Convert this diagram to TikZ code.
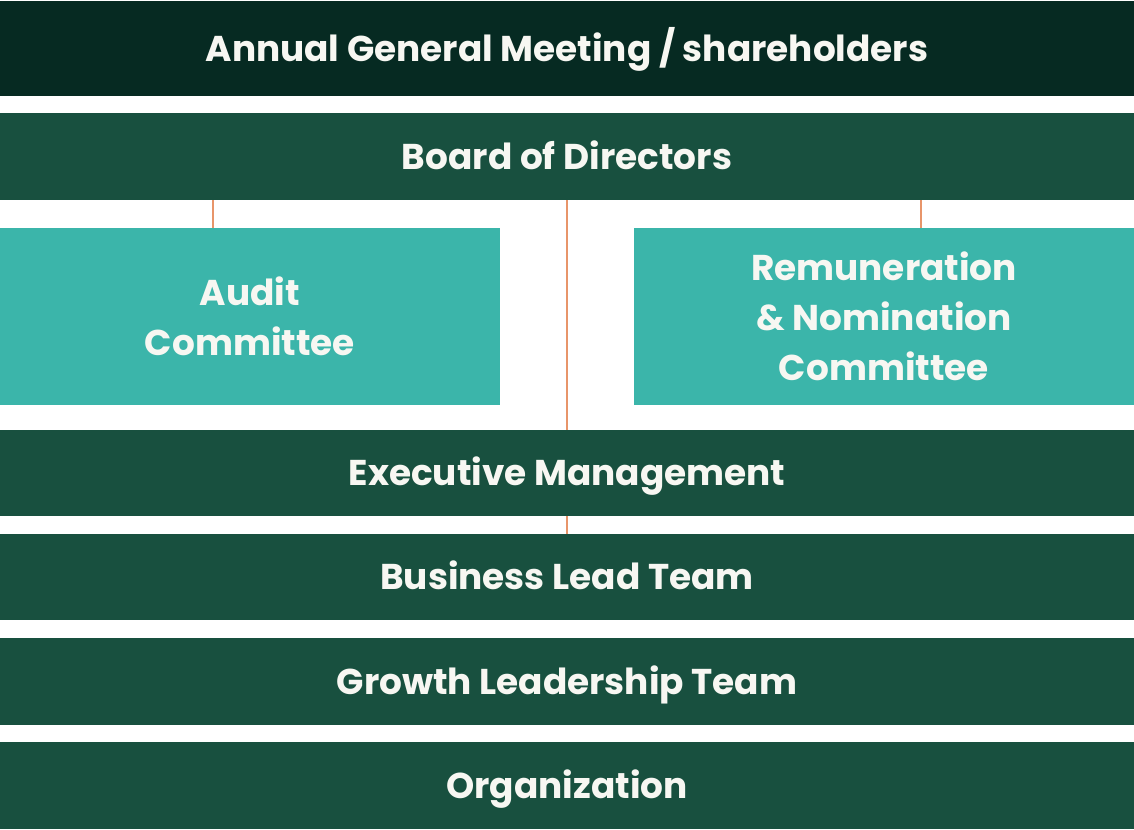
\documentclass[tikz,border=0pt]{standalone}
\usepackage{fontspec}
\setmainfont{Poppins Bold}
\definecolor{agmc}{HTML}{062A22}
\definecolor{barc}{HTML}{18503F}
\definecolor{tealc}{HTML}{3BB5AA}
\definecolor{linec}{HTML}{E8956A}
\definecolor{txtc}{HTML}{F7F7F2}
\tikzset{
  base/.style={fill=barc, draw=none, inner sep=0pt, outer sep=0pt, anchor=north west,
    text=txtc, font=\fontsize{36}{50}\selectfont, align=center},
  bar/.style={base, minimum width=1134bp, text height=25bp, text depth=0pt},
  comm/.style={base, fill=tealc, minimum width=500bp, minimum height=177bp},
  conn/.style={draw=linec, line width=1.6bp}
}
\begin{document}
\begin{tikzpicture}[x=1bp,y=-1bp]
\useasboundingbox[fill=white] (0,0) rectangle (1134,830);
\node[bar, fill=agmc, minimum height=95bp] (agm) at (0,1) {Annual General Meeting / shareholders};
\node[bar, minimum height=87bp] (board) at (0,113) {Board of Directors};
\node[comm] (audit) at (0,228) {Audit\\Committee};
\node[comm] (rem) at (634,228) {Remuneration\\\& Nomination\\Committee};
\node[bar, minimum height=86bp] (exec) at (0,430) {Executive Management};
\node[bar, minimum height=86bp] (blt) at (0,534) {Business Lead Team};
\node[bar, minimum height=87bp] (glt) at (0,638) {Growth Leadership Team};
\node[bar, minimum height=87bp] (org) at (0,742) {Organization};
\coordinate (ca) at (213,0);
\coordinate (cr) at (921,0);
\draw[conn] (board.south -| ca) -- (audit.north -| ca);
\draw[conn] (board.south -| cr) -- (rem.north -| cr);
\draw[conn] (board.south) -- (exec.north);
\draw[conn] (exec.south) -- (blt.north);
\end{tikzpicture}
\end{document}
